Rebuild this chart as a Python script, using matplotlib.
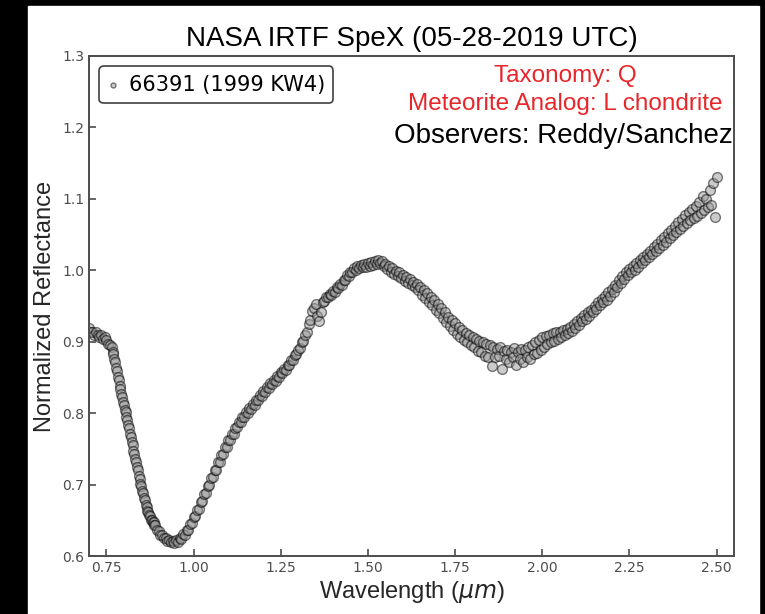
import matplotlib
matplotlib.use('Agg')
import matplotlib.pyplot as plt
from matplotlib.patches import Rectangle

# spectrum of 66391 (1999 KW4)
wl_a = [0.700, 0.705, 0.710, 0.715, 0.720, 0.725, 0.730, 0.735, 0.740, 0.745,
        0.750, 0.755, 0.760]
rf_a = [0.919, 0.913, 0.914, 0.909, 0.913, 0.910, 0.906, 0.910, 0.904, 0.906,
        0.903, 0.897, 0.895]

wl_b = [0.7650, 0.7675, 0.7700, 0.7725, 0.7750, 0.7775, 0.7800, 0.7825, 0.7850, 0.7875,
        0.7900, 0.7925, 0.7950, 0.7975, 0.8000, 0.8025, 0.8050, 0.8075, 0.8100, 0.8125,
        0.8150, 0.8175, 0.8200, 0.8225, 0.8250, 0.8275, 0.8300, 0.8325, 0.8350, 0.8375,
        0.8400, 0.8425, 0.8450, 0.8475, 0.8500, 0.8525, 0.8550, 0.8575, 0.8600, 0.8625,
        0.8650, 0.8675, 0.8700, 0.8725, 0.8750, 0.8775, 0.8800, 0.8825, 0.8850, 0.8875,
        0.8900]
rf_b = [0.892, 0.885, 0.883, 0.876, 0.872, 0.863, 0.859, 0.850, 0.846, 0.838,
        0.834, 0.827, 0.823, 0.816, 0.812, 0.805, 0.801, 0.794, 0.790, 0.783,
        0.779, 0.771, 0.767, 0.759, 0.755, 0.747, 0.743, 0.736, 0.732, 0.724,
        0.720, 0.712, 0.708, 0.701, 0.698, 0.691, 0.688, 0.681, 0.678, 0.671,
        0.669, 0.663, 0.662, 0.657, 0.656, 0.651, 0.651, 0.647, 0.647, 0.643,
        0.643]

wl_c = [0.895, 0.900, 0.905, 0.910, 0.915, 0.920, 0.925, 0.930, 0.935, 0.940,
        0.945, 0.950, 0.955, 0.960, 0.965, 0.970, 0.975, 0.980, 0.985, 0.990,
        0.995, 1.000, 1.005, 1.010, 1.015, 1.020, 1.025, 1.030, 1.035, 1.040,
        1.045, 1.050, 1.055, 1.060, 1.065, 1.070, 1.075, 1.080, 1.085, 1.090,
        1.095, 1.100]
rf_c = [0.637, 0.635, 0.630, 0.629, 0.625, 0.625, 0.621, 0.622, 0.619, 0.621,
        0.618, 0.622, 0.620, 0.625, 0.624, 0.631, 0.630, 0.637, 0.637, 0.645,
        0.646, 0.655, 0.656, 0.665, 0.666, 0.676, 0.677, 0.687, 0.688, 0.698,
        0.699, 0.709, 0.710, 0.720, 0.721, 0.731, 0.732, 0.741, 0.743, 0.752,
        0.753, 0.762]

wl_d = [1.105, 1.110, 1.115, 1.120, 1.125, 1.130, 1.135, 1.140, 1.145, 1.150,
        1.155, 1.160, 1.165, 1.170, 1.175, 1.180, 1.185, 1.190, 1.195, 1.200,
        1.205, 1.210, 1.215, 1.220, 1.225, 1.230, 1.235, 1.240, 1.245, 1.250,
        1.255, 1.260, 1.265, 1.270, 1.275, 1.280, 1.285, 1.290, 1.295, 1.300,
        1.305, 1.310, 1.315, 1.320, 1.325, 1.330, 1.335, 1.340, 1.345, 1.350]
rf_d = [0.763, 0.771, 0.771, 0.779, 0.780, 0.787, 0.788, 0.794, 0.795, 0.801,
        0.800, 0.807, 0.806, 0.813, 0.812, 0.819, 0.818, 0.825, 0.824, 0.831,
        0.830, 0.836, 0.835, 0.842, 0.841, 0.847, 0.845, 0.852, 0.851, 0.857,
        0.856, 0.862, 0.861, 0.868, 0.867, 0.874, 0.874, 0.882, 0.883, 0.889,
        0.891, 0.899, 0.901, 0.910, 0.914, 0.925, 0.931, 0.943, 0.947, 0.953]

wl_e = [1.355, 1.360, 1.365, 1.370, 1.375, 1.380, 1.385, 1.390, 1.395, 1.400,
        1.405, 1.410, 1.415, 1.420, 1.425, 1.430, 1.435, 1.440, 1.445, 1.450,
        1.455, 1.460, 1.465, 1.470, 1.475, 1.480, 1.485, 1.490, 1.495, 1.500,
        1.505, 1.510, 1.515, 1.520, 1.525, 1.530, 1.535, 1.540, 1.545, 1.550,
        1.555, 1.560, 1.565, 1.570, 1.575, 1.580, 1.585, 1.590, 1.595, 1.600]
rf_e = [0.936, 0.929, 0.941, 0.955, 0.957, 0.963, 0.962, 0.967, 0.966, 0.971,
        0.970, 0.976, 0.975, 0.981, 0.980, 0.987, 0.986, 0.993, 0.992, 0.998,
        0.997, 1.003, 1.000, 1.006, 1.003, 1.008, 1.004, 1.009, 1.005, 1.010,
        1.006, 1.011, 1.008, 1.013, 1.009, 1.014, 1.010, 1.013, 1.006, 1.009,
        1.002, 1.006, 0.998, 1.003, 0.995, 0.999, 0.992, 0.997, 0.989, 0.993]

wl_f = [1.605, 1.610, 1.615, 1.620, 1.625, 1.630, 1.635, 1.640, 1.645, 1.650,
        1.655, 1.660, 1.665, 1.670, 1.675, 1.680, 1.685, 1.690, 1.695, 1.700,
        1.705, 1.710, 1.715, 1.720, 1.725, 1.730, 1.735, 1.740, 1.745, 1.750,
        1.755, 1.760, 1.765, 1.770, 1.775, 1.780, 1.785, 1.790, 1.795, 1.800,
        1.805, 1.810, 1.815, 1.820, 1.825, 1.830, 1.835, 1.840, 1.845, 1.850]
rf_f = [0.985, 0.991, 0.982, 0.988, 0.979, 0.984, 0.976, 0.981, 0.972, 0.977,
        0.966, 0.973, 0.961, 0.968, 0.955, 0.963, 0.951, 0.958, 0.945, 0.953,
        0.940, 0.947, 0.933, 0.941, 0.928, 0.935, 0.922, 0.931, 0.916, 0.926,
        0.911, 0.921, 0.906, 0.917, 0.903, 0.912, 0.899, 0.909, 0.895, 0.907,
        0.893, 0.904, 0.887, 0.901, 0.885, 0.899, 0.880, 0.897, 0.878, 0.895]

wl_g = [1.855, 1.860, 1.865, 1.870, 1.875, 1.880, 1.885, 1.890, 1.895, 1.900,
        1.905, 1.910, 1.915, 1.920, 1.925, 1.930, 1.935, 1.940, 1.945, 1.950,
        1.955, 1.960, 1.965, 1.970, 1.975, 1.980, 1.985, 1.990, 1.995, 2.000,
        2.005, 2.010, 2.015, 2.020, 2.025, 2.030, 2.035, 2.040, 2.045, 2.050,
        2.055, 2.060, 2.065, 2.070, 2.075, 2.080, 2.085, 2.090, 2.095, 2.100]
rf_g = [0.866, 0.893, 0.878, 0.890, 0.880, 0.892, 0.862, 0.887, 0.876, 0.889,
        0.872, 0.885, 0.878, 0.891, 0.868, 0.886, 0.876, 0.890, 0.872, 0.888,
        0.879, 0.893, 0.876, 0.895, 0.883, 0.899, 0.884, 0.903, 0.889, 0.906,
        0.892, 0.908, 0.897, 0.910, 0.899, 0.912, 0.901, 0.913, 0.904, 0.914,
        0.907, 0.916, 0.909, 0.918, 0.912, 0.921, 0.915, 0.925, 0.919, 0.929]

wl_h = [2.105, 2.110, 2.115, 2.120, 2.125, 2.130, 2.135, 2.140, 2.145, 2.150,
        2.155, 2.160, 2.165, 2.170, 2.175, 2.180, 2.185, 2.190, 2.195, 2.200,
        2.205, 2.210, 2.215, 2.220, 2.225, 2.230, 2.235, 2.240, 2.245, 2.250,
        2.255, 2.260, 2.265, 2.270, 2.275, 2.280, 2.285, 2.290, 2.295, 2.300]
rf_h = [0.924, 0.933, 0.929, 0.937, 0.932, 0.941, 0.936, 0.945, 0.941, 0.950,
        0.946, 0.955, 0.951, 0.960, 0.955, 0.964, 0.959, 0.969, 0.964, 0.974,
        0.970, 0.980, 0.976, 0.986, 0.982, 0.992, 0.988, 0.998, 0.993, 1.002,
        0.997, 1.006, 1.001, 1.010, 1.005, 1.015, 1.010, 1.019, 1.014, 1.023]

wl_i = [2.305, 2.310, 2.315, 2.320, 2.325, 2.330, 2.335, 2.340, 2.345, 2.350,
        2.355, 2.360, 2.365, 2.370, 2.375, 2.380, 2.385, 2.390, 2.395, 2.400,
        2.405, 2.410, 2.415, 2.420, 2.425, 2.430, 2.435, 2.440, 2.445, 2.450,
        2.455, 2.460, 2.465, 2.470, 2.475, 2.480, 2.485, 2.490, 2.495, 2.500]
rf_i = [1.019, 1.027, 1.023, 1.032, 1.027, 1.037, 1.031, 1.042, 1.036, 1.047,
        1.040, 1.052, 1.045, 1.057, 1.049, 1.062, 1.054, 1.068, 1.058, 1.072,
        1.062, 1.077, 1.066, 1.081, 1.070, 1.086, 1.073, 1.090, 1.076, 1.095,
        1.080, 1.104, 1.084, 1.100, 1.088, 1.112, 1.092, 1.122, 1.075, 1.130]

wavelength = wl_a + wl_b + wl_c + wl_d + wl_e + wl_f + wl_g + wl_h + wl_i
reflectance = rf_a + rf_b + rf_c + rf_d + rf_e + rf_f + rf_g + rf_h + rf_i
assert len(wavelength) == len(reflectance)

xticks = [0.75, 1.00, 1.25, 1.50, 1.75, 2.00, 2.25, 2.50]
yticks = [0.6, 0.7, 0.8, 0.9, 1.0, 1.1, 1.2, 1.3]

helv = 'Liberation Sans'

fig = plt.figure(figsize=(7.65, 6.14), dpi=100, facecolor='black')
# white page inside the black border
fig.add_artist(Rectangle((28 / 765, 0), (759 - 28) / 765, 1 - 6 / 614,
                         transform=fig.transFigure, color='white', zorder=-1))

ax = fig.add_axes([89 / 765, 1 - 556 / 614, (734 - 89) / 765, (556 - 56) / 614])
ax.scatter(wavelength, reflectance, s=50, facecolor='0.6', edgecolor='k',
           linewidths=1.0, alpha=0.5, label='66391 (1999 KW4)')

ax.set_xlim(0.7, 2.55)
ax.set_ylim(0.6, 1.3)
ax.set_xticks(xticks)
ax.set_xticklabels(['%.2f' % v for v in xticks])
ax.set_yticks(yticks)
ax.set_yticklabels(['%.1f' % v for v in yticks])
ax.tick_params(direction='in', length=5, width=1.2, colors='0.3',
               labelsize=10, labelcolor='0.3', top=False, right=False)
for sp in ax.spines.values():
    sp.set_color('0.3')
    sp.set_linewidth(1.4)

ax.set_xlabel('Wavelength ($\\mu m$)', fontsize=17, family=helv, color='0.15',
              labelpad=3)
ax.set_ylabel('Normalized Reflectance', fontsize=17, family=helv, color='0.15')
ax.set_title('NASA IRTF SpeX (05-28-2019 UTC)', fontsize=20, family=helv, pad=7)

leg = ax.legend(loc='upper left', fontsize=15, handlelength=0.5,
                handletextpad=0.5, markerscale=0.5, scatterpoints=1,
                fancybox=True, framealpha=1)
leg.get_frame().set_edgecolor('0.25')
leg.get_frame().set_linewidth(1.2)

ax.text(0.738, 0.960, 'Taxonomy: Q', transform=ax.transAxes, ha='center',
        va='center', color='#e8262a', fontsize=17.5, family=helv)
ax.text(0.738, 0.904, 'Meteorite Analog: L chondrite', transform=ax.transAxes,
        ha='center', va='center', color='#e8262a', fontsize=17.5, family=helv)
ax.text(0.735, 0.840, 'Observers: Reddy/Sanchez', transform=ax.transAxes,
        ha='center', va='center', color='k', fontsize=20, family=helv)

fig.savefig('out.png', dpi=100)
